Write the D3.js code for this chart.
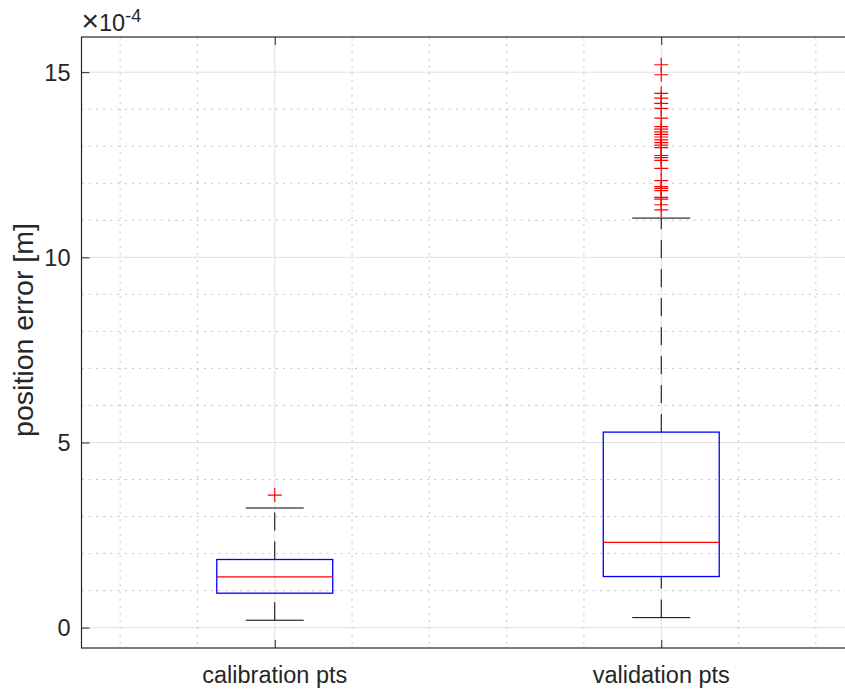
<!DOCTYPE html>
<html>
<head>
<meta charset="utf-8">
<script src="https://cdn.jsdelivr.net/npm/d3@7"></script>
<style>
  body { margin: 0; background: #fff; }
  svg { display: block; font-family: "Liberation Sans", Arial, Helvetica, sans-serif; }
  .tick-label { font-size: 23.5px; fill: #262626; }
</style>
</head>
<body>
<svg width="845" height="694"></svg>
<script>
// values are in units of 1e-4 m
const categories = ['calibration pts', 'validation pts'];
const lowerWhisker = [0.20, 0.27];
const q1 = [0.93, 1.38];
const median = [1.37, 2.30];
const q3 = [1.84, 5.28];
const upperWhisker = [3.23, 11.06];
const outliers = [
  [3.58],
  [15.20, 14.93, 14.43, 14.30, 14.16, 14.02, 13.76, 13.53, 13.46, 13.39,
   13.32, 13.25, 13.17, 13.10, 13.03, 12.96, 12.75, 12.69, 12.62, 12.40,
   12.07, 11.91, 11.86, 11.80, 11.62, 11.57, 11.42, 11.28]
];
const yTicks = [0, 5, 10, 15];
const yMinorTicks = [1, 2, 3, 4, 6, 7, 8, 9, 11, 12, 13, 14];
const xMinorTicks = [0.6, 0.8, 1.2, 1.4, 1.6, 1.8, 2.2, 2.4];
const yExponent = '-4';
const yAxisLabel = 'position error [m]';

const svg = d3.select("svg");
const width = +svg.attr("width");

// plot area (right edge of the axes falls outside the window)
const plot = { left: 81.5, right: 854.5, top: 37, bottom: 648 };

const xScale = d3.scaleLinear().domain([0.5, 2.5]).range([plot.left, plot.right]);
const yScale = d3.scaleLinear().domain([-0.55, 15.95]).range([plot.bottom, plot.top]);

const data = categories.map((c, i) => ({
  pos: i + 1, name: c,
  lo: lowerWhisker[i], q1: q1[i], med: median[i], q3: q3[i], hi: upperWhisker[i],
  out: outliers[i]
}));

// grid
const grid = svg.append('g');
grid.append('g').selectAll('line').data(yMinorTicks).join('line')
  .attr('x1', plot.left).attr('x2', width)
  .attr('y1', d => yScale(d)).attr('y2', d => yScale(d))
  .attr('stroke', '#c4c4c4').attr('stroke-width', 1).attr('stroke-dasharray', '2,5.2');
grid.append('g').selectAll('line').data(xMinorTicks).join('line')
  .attr('x1', d => xScale(d)).attr('x2', d => xScale(d))
  .attr('y1', plot.top).attr('y2', plot.bottom)
  .attr('stroke', '#c4c4c4').attr('stroke-width', 1).attr('stroke-dasharray', '2,5.2');
grid.append('g').selectAll('line').data(yTicks).join('line')
  .attr('x1', plot.left).attr('x2', width)
  .attr('y1', d => yScale(d)).attr('y2', d => yScale(d))
  .attr('stroke', '#e0e0e0').attr('stroke-width', 1);
grid.append('g').selectAll('line').data(data).join('line')
  .attr('x1', d => xScale(d.pos)).attr('x2', d => xScale(d.pos))
  .attr('y1', plot.top).attr('y2', plot.bottom)
  .attr('stroke', '#e0e0e0').attr('stroke-width', 1);

// axes: ticks point inward
const yAxis = d3.axisRight(yScale).tickValues(yTicks).tickSize(8).tickFormat('');
svg.append('g').attr('transform', `translate(${plot.left},0)`).call(yAxis);

const xAxisBottom = d3.axisTop(xScale).tickValues(data.map(d => d.pos)).tickSize(8).tickFormat('');
svg.append('g').attr('transform', `translate(0,${plot.bottom})`).call(xAxisBottom);
const xAxisTop = d3.axisBottom(xScale).tickValues(data.map(d => d.pos)).tickSize(8).tickFormat('');
svg.append('g').attr('transform', `translate(0,${plot.top})`).call(xAxisTop);

svg.selectAll('.domain').remove();
svg.selectAll('.tick line').attr('stroke', '#262626').attr('stroke-width', 1);

// axes box
svg.append('rect')
  .attr('x', plot.left).attr('y', plot.top)
  .attr('width', plot.right - plot.left).attr('height', plot.bottom - plot.top)
  .attr('fill', 'none').attr('stroke', '#262626').attr('stroke-width', 1.2);

// tick labels
svg.append('g').selectAll('text').data(yTicks).join('text')
  .attr('class', 'tick-label')
  .attr('x', plot.left - 11).attr('y', d => yScale(d)).attr('dy', '0.36em')
  .attr('text-anchor', 'end')
  .text(d => d);

svg.append('g').selectAll('text').data(data).join('text')
  .attr('class', 'tick-label')
  .attr('x', d => xScale(d.pos)).attr('y', 683)
  .attr('text-anchor', 'middle')
  .text(d => d.name);

// exponent label
const expo = svg.append('text').attr('class', 'tick-label').attr('x', plot.left).attr('y', 31);
expo.append('tspan').style('font-size', '30px').text('\u00d7');
expo.append('tspan').text('10');
expo.append('tspan').attr('dy', -9).style('font-size', '18px').text(yExponent);

// y-axis label
svg.append('text')
  .attr('transform', 'translate(33,330) rotate(-90)')
  .attr('text-anchor', 'middle')
  .style('font-size', '28.5px').attr('fill', '#262626')
  .text(yAxisLabel);

// boxes
const boxHalf = 0.15, capHalf = 0.075;
const box = svg.append('g').selectAll('g').data(data).join('g');

box.append('line')
  .attr('x1', d => xScale(d.pos)).attr('x2', d => xScale(d.pos))
  .attr('y1', d => yScale(d.q3)).attr('y2', d => yScale(d.hi))
  .attr('stroke', '#000').attr('stroke-width', 1).attr('stroke-dasharray', '18,11');
box.append('line')
  .attr('x1', d => xScale(d.pos)).attr('x2', d => xScale(d.pos))
  .attr('y1', d => yScale(d.lo)).attr('y2', d => yScale(d.q1))
  .attr('stroke', '#000').attr('stroke-width', 1).attr('stroke-dasharray', '18,11');

['hi', 'lo'].forEach(k => {
  box.append('line')
    .attr('x1', d => xScale(d.pos - capHalf)).attr('x2', d => xScale(d.pos + capHalf))
    .attr('y1', d => yScale(d[k])).attr('y2', d => yScale(d[k]))
    .attr('stroke', '#000').attr('stroke-width', 1);
});

box.append('rect')
  .attr('x', d => xScale(d.pos - boxHalf))
  .attr('width', d => xScale(d.pos + boxHalf) - xScale(d.pos - boxHalf))
  .attr('y', d => yScale(d.q3))
  .attr('height', d => yScale(d.q1) - yScale(d.q3))
  .attr('fill', 'none').attr('stroke', '#0000ff').attr('stroke-width', 1.3);

box.append('line')
  .attr('x1', d => xScale(d.pos - boxHalf)).attr('x2', d => xScale(d.pos + boxHalf))
  .attr('y1', d => yScale(d.med)).attr('y2', d => yScale(d.med))
  .attr('stroke', '#ff0000').attr('stroke-width', 1.3);

// outliers as '+'
const outPts = data.flatMap(d => d.out.map(v => ({ pos: d.pos, v })));
svg.append('g').selectAll('path').data(outPts).join('path')
  .attr('d', 'M-7,0H7M0,-7V7')
  .attr('transform', d => `translate(${xScale(d.pos)},${yScale(d.v)})`)
  .attr('fill', 'none').attr('stroke', '#ff0000').attr('stroke-width', 1.2);
</script>
</body>
</html>
